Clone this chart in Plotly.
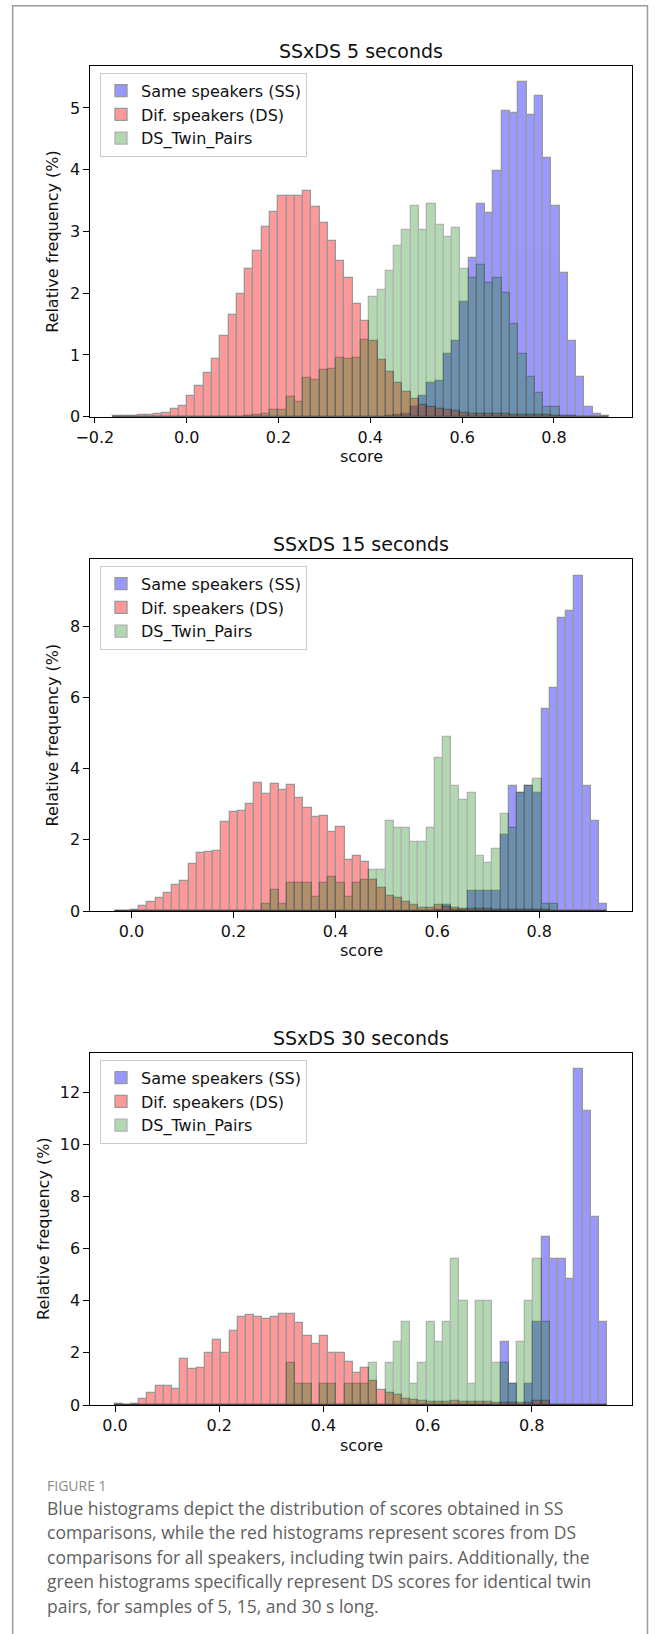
import numpy as np
import plotly.graph_objects as go

W, H = 658, 1634

# ---------------- data (relative frequency %, 60 bins per panel) ----------------
# Panel 1: 5 seconds
bins5_start, bins5_width = -0.1612, 0.01803
ss5 = [0]*33 + [0.01, 0.02, 0.04, 0.15, 0.33, 0.54, 0.58, 1.01, 1.23, 1.86, 2.57, 3.44, 3.30, 3.98,
                4.95, 4.92, 5.42, 4.88, 5.19, 4.19, 3.42, 2.32, 1.23, 0.65, 0.15, 0.04, 0.01]
ds5 = [0.01, 0.01, 0.01, 0.02, 0.03, 0.04, 0.06, 0.12, 0.18, 0.33, 0.50, 0.70, 0.94, 1.31, 1.65, 1.98,
       2.39, 2.68, 3.07, 3.31, 3.57, 3.58, 3.57, 3.65, 3.39, 3.14, 2.84, 2.52, 2.24, 1.82, 1.55, 1.22,
       0.92, 0.73, 0.55, 0.40, 0.28, 0.19, 0.15, 0.13, 0.11, 0.09, 0.06, 0.05, 0.05, 0.04, 0.04, 0.04,
       0.03, 0.03, 0.03, 0.02, 0.02, 0.01, 0.01, 0.01, 0, 0, 0, 0]
twin5 = [0]*16 + [0.01, 0.03, 0.05, 0.11, 0.11, 0.32, 0.24, 0.62, 0.59, 0.76, 0.78, 0.95, 0.93, 0.95,
                  1.24, 1.94, 2.05, 2.36, 2.77, 3.02, 3.42, 3.02, 3.45, 3.11, 2.91, 3.06, 2.39, 2.25,
                  2.46, 2.17, 2.25, 2.00, 1.50, 1.02, 0.65, 0.38, 0.15, 0.15, 0, 0, 0, 0, 0, 0]

# Panel 2: 15 seconds
bins15_start, bins15_width = -0.0332, 0.01611
ss15 = [0]*39 + [0.04, 0.17, 0.04, 0.04, 0.56, 0.56, 0.56, 0.56, 2.14, 3.52, 3.33, 3.52, 3.33,
                 5.68, 6.27, 8.24, 8.44, 9.43, 3.52, 2.53, 0.19]
ds15 = [0.01, 0.01, 0.03, 0.15, 0.24, 0.36, 0.52, 0.73, 0.83, 1.31, 1.62, 1.67, 1.69, 2.51, 2.78, 2.80,
        3.00, 3.59, 3.29, 3.57, 3.41, 3.54, 3.19, 2.89, 2.63, 2.68, 2.23, 2.35, 1.44, 1.55, 1.39, 0.87,
        0.66, 0.42, 0.36, 0.26, 0.17, 0.08, 0.08, 0.17, 0.10, 0.08, 0.06, 0.06, 0.05, 0.05, 0.04, 0.04,
        0.04, 0.03, 0.03, 0.03, 0.02, 0.01, 0, 0, 0, 0, 0, 0]
twin15 = [0]*18 + [0.19, 0.59, 0.19, 0.78, 0.78, 0.78, 0.39, 0.78, 0.97, 0.78, 0.39, 0.78, 0.87, 1.15,
                   1.15, 2.53, 2.34, 2.34, 1.95, 1.95, 2.34, 4.29, 4.88, 3.51, 3.12, 3.32, 1.56, 1.36,
                   1.75, 2.73, 2.34, 3.33, 3.52, 3.71, 0.19, 0.19, 0, 0, 0, 0, 0, 0]

# Panel 3: 30 seconds
bins30_start, bins30_width = -0.0008, 0.01576
ss30 = [0]*47 + [2.41, 0.80, 0, 0.80, 3.20, 6.43, 5.61, 5.61, 4.84, 12.87, 11.27, 7.21, 3.20]
ds30 = [0.04, 0.01, 0.04, 0.23, 0.47, 0.74, 0.72, 0.61, 1.77, 1.38, 1.41, 1.98, 2.50, 1.98, 2.82, 3.37,
        3.46, 3.39, 3.29, 3.37, 3.50, 3.50, 3.14, 2.65, 2.33, 2.65, 2.01, 1.98, 1.65, 1.22, 1.41, 0.92,
        0.58, 0.47, 0.38, 0.22, 0.19, 0.15, 0.13, 0.10, 0.10, 0.15, 0.10, 0.10, 0.10, 0.10, 0.08, 0.08,
        0.06, 0.06, 0.06, 0.14, 0.14, 0, 0, 0, 0, 0, 0, 0]
twin30 = [0]*21 + [1.60, 0.80, 0.80, 0, 0.80, 0.80, 0, 0.80, 0.80, 0.80, 1.60, 0, 1.60, 2.40, 3.20,
                   0.80, 1.60, 3.20, 2.40, 3.20, 5.60, 4.00, 0.80, 4.00, 4.00, 1.60, 1.60, 0.80, 2.40,
                   4.00, 5.60, 3.20, 0, 0, 0, 0, 0, 0, 0]

titles = ["SSxDS 5 seconds", "SSxDS 15 seconds", "SSxDS 30 seconds"]
series_names = ["Same speakers (SS)", "Dif. speakers (DS)", "DS_Twin_Pairs"]
series_colors = ["#0000ff", "#ff0000", "#008000"]
series_alpha = [0.4, 0.4, 0.3]

x_ticks = [[-0.2, 0.0, 0.2, 0.4, 0.6, 0.8], [0.0, 0.2, 0.4, 0.6, 0.8], [0.0, 0.2, 0.4, 0.6, 0.8]]
y_ticks = [[0, 1, 2, 3, 4, 5], [0, 2, 4, 6, 8], [0, 2, 4, 6, 8, 10, 12]]

caption_label = "FIGURE 1"
caption_lines = [
    "Blue histograms depict the distribution of scores obtained in SS",
    "comparisons, while the red histograms represent scores from DS",
    "comparisons for all speakers, including twin pairs. Additionally, the",
    "green histograms specifically represent DS scores for identical twin",
    "pairs, for samples of 5, 15, and 30 s long.",
]

# ---------------- layout geometry (pixels) ----------------
panels = [
    dict(bins=(bins5_start, bins5_width), data=[ss5, ds5, twin5], top=66, bottom=416.7,
         xr=[-0.2106, 0.970], yr=[0, 5.68], ylab_x=52.5),
    dict(bins=(bins15_start, bins15_width), data=[ss15, ds15, twin15], top=559, bottom=911,
         xr=[-0.0815, 0.982], yr=[0, 9.9], ylab_x=52.5),
    dict(bins=(bins30_start, bins30_width), data=[ss30, ds30, twin30], top=1053, bottom=1405,
         xr=[-0.048, 0.9923], yr=[0, 13.5], ylab_x=43),
]
AX_L, AX_R = 90, 632
FONT = "DejaVu Sans"

def px(x):
    return x / W

def py(y):
    return 1 - y / H

fig = go.Figure()
annotations = []
for i, p in enumerate(panels):
    n = i + 1
    xa = "x" if n == 1 else f"x{n}"
    ya = "y" if n == 1 else f"y{n}"
    lg = "legend" if n == 1 else f"legend{n}"
    start, width = p["bins"]
    centers = start + (np.arange(60) + 0.5) * width
    for name, col, alpha, vals in zip(series_names, series_colors, series_alpha, p["data"]):
        fig.add_trace(go.Bar(
            x=centers, y=vals, width=width, name=name,
            marker=dict(color=col, line=dict(color="black", width=1.3)),
            opacity=alpha, xaxis=xa, yaxis=ya, legend=lg, showlegend=True,
        ))
    axis_common = dict(showline=True, mirror=True, linecolor="black", linewidth=1.3,
                       ticks="outside", ticklen=5.5, tickwidth=1.3, tickcolor="black",
                       showgrid=False, zeroline=False, automargin=False,
                       tickfont=dict(family=FONT, size=16, color="#111"))
    xkey = "xaxis" if n == 1 else f"xaxis{n}"
    ykey = "yaxis" if n == 1 else f"yaxis{n}"
    fig.update_layout(**{
        xkey: dict(domain=[px(AX_L), px(AX_R)], range=p["xr"], anchor=ya,
                   tickvals=x_ticks[i],
                   ticktext=[(f"{v:.1f}").replace("-", "\u2212") for v in x_ticks[i]],
                   **axis_common),
        ykey: dict(domain=[py(p["bottom"]), py(p["top"])], range=p["yr"], anchor=xa,
                   tickvals=y_ticks[i], ticktext=[str(v) for v in y_ticks[i]],
                   **axis_common),
        lg: dict(x=px(100), y=py(p["top"] + 6.7), xanchor="left", yanchor="top",
                 bgcolor="rgba(255,255,255,0.8)", bordercolor="#cccccc", borderwidth=1,
                 font=dict(family=FONT, size=16, color="#111"),
                 tracegroupgap=0, itemwidth=30),
    })
    mid = (AX_L + AX_R) / 2
    annotations.append(dict(text=titles[i], x=px(mid), y=py(p["top"] - 15), xref="paper", yref="paper",
                            showarrow=False, xanchor="center", yanchor="middle",
                            font=dict(family=FONT, size=19, color="#111")))
    annotations.append(dict(text="score", x=px(mid), y=py(p["bottom"] + 40), xref="paper", yref="paper",
                            showarrow=False, xanchor="center", yanchor="middle",
                            font=dict(family=FONT, size=16, color="#111")))
    annotations.append(dict(text="Relative frequency (%)", x=px(p["ylab_x"]),
                            y=py((p["top"] + p["bottom"]) / 2),
                            xref="paper", yref="paper", showarrow=False, textangle=-90,
                            xanchor="center", yanchor="middle",
                            font=dict(family=FONT, size=16, color="#111")))

annotations.append(dict(text=caption_label, x=px(45), y=py(1485), xref="paper", yref="paper",
                        showarrow=False, xanchor="left", yanchor="middle",
                        font=dict(family="Open Sans", size=14, color="#8a8a8a")))
for j, line in enumerate(caption_lines):
    annotations.append(dict(text=line, x=px(45), y=py(1508 + 24.4 * j), xref="paper", yref="paper",
                            showarrow=False, xanchor="left", yanchor="middle",
                            font=dict(family="Open Sans", size=17.5, color="#5f5f5f")))

fig.update_layout(
    width=W, height=H, autosize=False,
    margin=dict(l=0, r=0, t=0, b=0, pad=0, autoexpand=False),
    paper_bgcolor="white", plot_bgcolor="white",
    barmode="overlay", bargap=0,
    annotations=annotations,
    shapes=[dict(type="path", xref="paper", yref="paper",
                 path=f"M {px(12.7)} {py(1640)} L {px(12.7)} {py(5.7)} L {px(647.5)} {py(5.7)} L {px(647.5)} {py(1640)}",
                 line=dict(color="#9a9a9a", width=1.5))],
)

fig.write_html(
    "out.html",
    config={"displayModeBar": False},
    post_script="document.body.style.margin='0';document.body.style.padding='0';"
                "document.body.style.overflow='hidden';document.documentElement.style.overflow='hidden';",
)
